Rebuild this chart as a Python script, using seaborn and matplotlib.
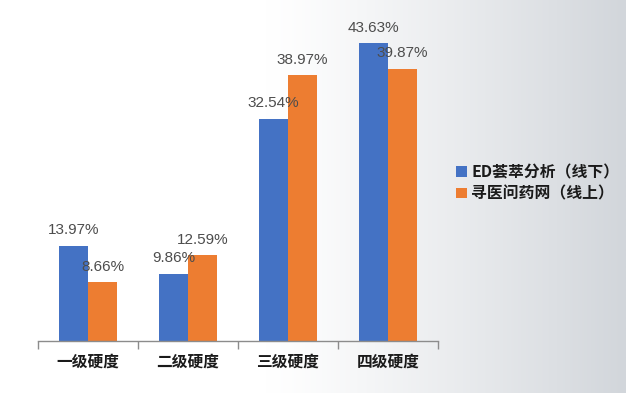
import numpy as np
import pandas as pd
import matplotlib
matplotlib.use("Agg")
import matplotlib.pyplot as plt
import seaborn as sns
from matplotlib.colors import LinearSegmentedColormap

# datos
categorias = ['一级硬度', '二级硬度', '三级硬度', '四级硬度']
series = ['ED荟萃分析（线下）', '寻医问药网（线上）']
valores_ed = [13.97, 9.86, 32.54, 43.63]
valores_web = [8.66, 12.59, 38.97, 39.87]

df = pd.DataFrame({
    'categoria': categorias * 2,
    'serie': [series[0]] * 4 + [series[1]] * 4,
    'valor': valores_ed + valores_web,
})

sns.set_style('white')
plt.rcParams['font.family'] = ['Noto Sans CJK SC', 'DejaVu Sans']

fig = plt.figure(figsize=(6.26, 3.93), dpi=100)

# fondo con degradado
bg = fig.add_axes([0, 0, 1, 1], zorder=-10)
grad = np.linspace(0, 1, 300)
grad = np.clip((grad - 0.42) / 0.58, 0, 1) ** 1.2
cmap_bg = LinearSegmentedColormap.from_list('bg', ['#ffffff', '#d2d6db'])
bg.imshow(grad[np.newaxis, :], aspect='auto', cmap=cmap_bg, extent=[0, 1, 0, 1])
bg.axis('off')

ax = fig.add_axes([38 / 626, 52 / 393, 400 / 626, 341 / 393])
ax.patch.set_alpha(0)

sns.barplot(data=df, x='categoria', y='valor', hue='serie',
            palette=['#4472C4', '#ED7D31'], width=0.58, gap=0,
            saturation=1, linewidth=0, ax=ax)

for cont in ax.containers:
    ax.bar_label(cont, labels=[f'{v:.2f}%' for v in cont.datavalues],
                 padding=6, fontsize=11, color='#4d4d4d',
                 family=['Liberation Sans', 'DejaVu Sans'])

ax.set_xlim(-0.5, 3.5)
ax.set_ylim(0, 49.93)
ax.set_xlabel('')
ax.set_ylabel('')
ax.set_yticks([])
for s in ['top', 'right', 'left']:
    ax.spines[s].set_visible(False)
ax.spines['bottom'].set_color('#8c8c8c')
ax.spines['bottom'].set_linewidth(1)

ax.set_xticks(np.arange(-0.5, 4, 1), minor=True)
ax.tick_params(axis='x', which='minor', length=6, color='#8c8c8c', width=1,
               direction='out', bottom=True)
ax.tick_params(axis='x', which='major', length=0, pad=9)
for lab in ax.get_xticklabels():
    lab.set_fontsize(11.3)
    lab.set_fontweight('bold')
    lab.set_color('#1a1a1a')

ax.legend(loc='center left', bbox_to_anchor=(450 / 626, 1 - 183 / 393),
          bbox_transform=fig.transFigure, frameon=False,
          handlelength=0.65, handleheight=0.65, handletextpad=0.3,
          labelspacing=0.35, borderaxespad=0,
          prop={'size': 11.4, 'weight': 'bold'}, labelcolor='#1a1a1a')

fig.savefig('out.png', dpi=100)
